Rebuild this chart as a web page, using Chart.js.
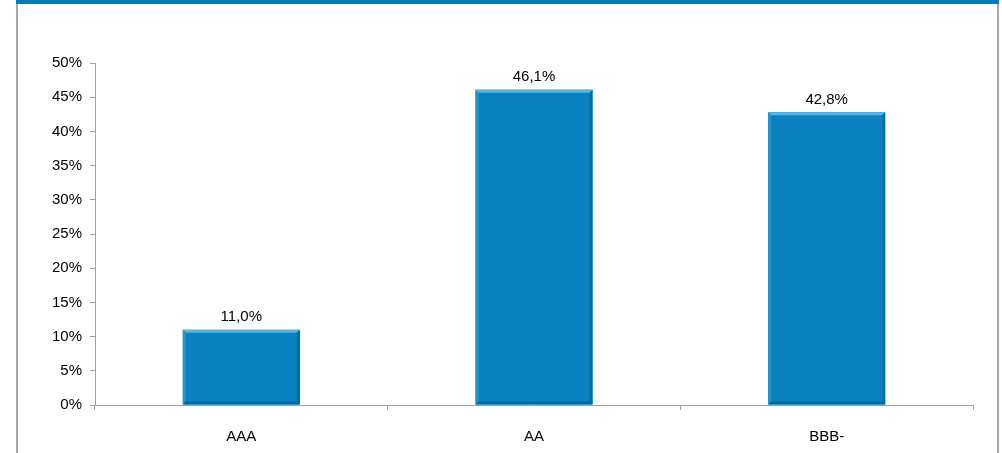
<!DOCTYPE html>
<html>
<head>
<meta charset="utf-8">
<script src="https://cdn.jsdelivr.net/npm/chart.js@4/dist/chart.umd.min.js"></script>
<style>
  html, body { margin: 0; padding: 0; background: #ffffff; }
  #wrap { position: relative; width: 1002px; height: 453px; overflow: hidden; background: #fff; }
  #topbar { position: absolute; left: 16px; top: 0; width: 983px; height: 4px; background: #0a7ab5; }
  #lb { position: absolute; left: 16px; top: 4px; width: 2px; height: 449px; background: #a6a8ab; }
  #rb { position: absolute; left: 997px; top: 4px; width: 2px; height: 449px; background: #a6a8ab; }
  canvas { position: absolute; left: 0; top: 0; }
</style>
</head>
<body>
<div id="wrap">
  <canvas id="c" width="1002" height="453"></canvas>
  <div id="topbar"></div>
  <div id="lb"></div>
  <div id="rb"></div>
</div>
<script>
const categories = ["AAA", "AA", "BBB-"];
const values = [11.0, 46.1, 42.8];
const yTicks = [0, 5, 10, 15, 20, 25, 30, 35, 40, 45, 50];

const FONT = "'Liberation Sans', Arial, sans-serif";

const bevelPlugin = {
  id: 'bevel',
  afterDatasetsDraw(chart) {
    const ctx = chart.ctx;
    const meta = chart.getDatasetMeta(0);
    meta.data.forEach((bar, i) => {
      const w = bar.width;
      const l = bar.x - w / 2, r = bar.x + w / 2;
      const t = bar.y, b = bar.base;
      const e = 3;
      ctx.save();
      ctx.fillStyle = '#0b82bf';
      ctx.fillRect(l, t, w, b - t);
      ctx.fillStyle = '#4fb6e6';
      ctx.beginPath();
      ctx.moveTo(l, t); ctx.lineTo(r, t); ctx.lineTo(r - e, t + e); ctx.lineTo(l + e, t + e); ctx.closePath(); ctx.fill();
      ctx.fillStyle = '#1f97cf';
      ctx.beginPath();
      ctx.moveTo(l, t); ctx.lineTo(l + e, t + e); ctx.lineTo(l + e, b - e); ctx.lineTo(l, b); ctx.closePath(); ctx.fill();
      ctx.fillStyle = '#066ba1';
      ctx.beginPath();
      ctx.moveTo(r, t); ctx.lineTo(r - e, t + e); ctx.lineTo(r - e, b - e); ctx.lineTo(r, b); ctx.closePath(); ctx.fill();
      ctx.fillStyle = '#07679c';
      ctx.beginPath();
      ctx.moveTo(l, b); ctx.lineTo(l + e, b - e); ctx.lineTo(r - e, b - e); ctx.lineTo(r, b); ctx.closePath(); ctx.fill();
      ctx.fillStyle = '#000';
      ctx.font = '15px ' + FONT;
      ctx.textAlign = 'center';
      ctx.textBaseline = 'bottom';
      ctx.fillText(values[i].toFixed(1).replace('.', ',') + '%', bar.x, t - 5);
      ctx.restore();
    });
  }
};

new Chart(document.getElementById('c'), {
  type: 'bar',
  data: {
    labels: categories,
    datasets: [{
      data: values,
      backgroundColor: 'rgba(0,0,0,0)',
      borderWidth: 0,
      categoryPercentage: 1.0,
      barPercentage: 0.4
    }]
  },
  options: {
    responsive: false,
    animation: false,
    events: [],
    layout: { padding: { left: 0, top: 63, right: 29, bottom: 0 } },
    plugins: { legend: { display: false }, tooltip: { enabled: false }, title: { display: false } },
    scales: {
      x: {
        grid: { drawOnChartArea: false, color: '#a0a0a0', tickLength: 5, offset: true },
        border: { color: '#a0a0a0', width: 1 },
        ticks: { color: '#000', font: { family: FONT, size: 15 }, padding: 18 },
        afterFit(s) { s.height = 48; }
      },
      y: {
        min: 0, max: 50,
        afterBuildTicks(s) { s.ticks = yTicks.map(v => ({ value: v })); },
        grid: { drawOnChartArea: false, color: '#a0a0a0', tickLength: 5 },
        border: { color: '#a0a0a0', width: 1 },
        ticks: { color: '#000', font: { family: FONT, size: 15 }, padding: 8, callback: v => v + '%' },
        afterFit(s) { s.width = 95; }
      }
    }
  },
  plugins: [bevelPlugin]
});
</script>
</body>
</html>
